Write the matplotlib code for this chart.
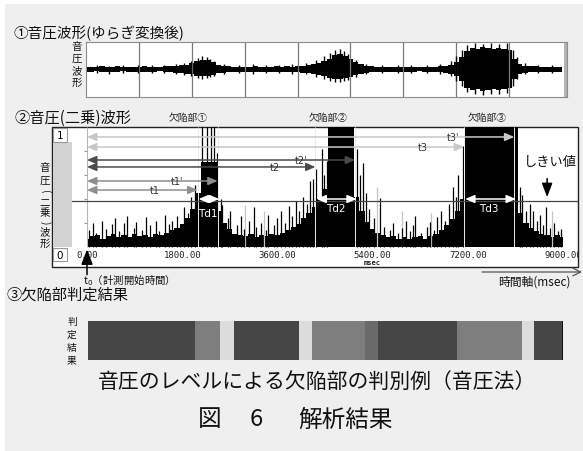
import matplotlib
matplotlib.use("Agg")
import matplotlib.pyplot as plt
from matplotlib.patches import Rectangle, ArrowStyle
import numpy as np

plt.rcParams["font.family"] = ["Noto Sans CJK JP", "DejaVu Sans"]

W, H = 583, 452

# ---- data ----
# (1) sound pressure waveform, envelope every 100 ms (fraction of half height)
wave_t = np.arange(0, 9001, 100)
wave_up = [0.09, 0.10, 0.08, 0.11, 0.09, 0.10, 0.11, 0.08, 0.10, 0.09,
           0.10, 0.11, 0.09, 0.10, 0.08, 0.11, 0.12, 0.13, 0.15, 0.18,
           0.22, 0.30, 0.36, 0.34, 0.26, 0.18, 0.13, 0.11, 0.10, 0.09,
           0.10, 0.09, 0.11, 0.10, 0.09, 0.10, 0.12, 0.10, 0.11, 0.10,
           0.12, 0.14, 0.16, 0.19, 0.24, 0.30, 0.40, 0.52, 0.58, 0.50,
           0.40, 0.28, 0.20, 0.14, 0.11, 0.10, 0.10, 0.09, 0.10, 0.10,
           0.09, 0.10, 0.10, 0.08, 0.10, 0.09, 0.10, 0.11, 0.13, 0.17,
           0.26, 0.45, 0.68, 0.80, 0.76, 0.82, 0.78, 0.74, 0.80, 0.76,
           0.70, 0.38, 0.19, 0.14, 0.11, 0.11, 0.10, 0.10, 0.09, 0.10,
           0.09]
wave_dn = [0.08, 0.09, 0.07, 0.10, 0.08, 0.09, 0.10, 0.07, 0.09, 0.08,
           0.09, 0.10, 0.08, 0.09, 0.07, 0.10, 0.10, 0.11, 0.13, 0.15,
           0.18, 0.22, 0.25, 0.24, 0.19, 0.14, 0.11, 0.10, 0.09, 0.08,
           0.09, 0.08, 0.10, 0.09, 0.08, 0.09, 0.10, 0.09, 0.10, 0.09,
           0.10, 0.12, 0.14, 0.17, 0.21, 0.25, 0.32, 0.36, 0.35, 0.31,
           0.26, 0.20, 0.16, 0.12, 0.10, 0.09, 0.10, 0.08, 0.09, 0.09,
           0.08, 0.09, 0.09, 0.07, 0.09, 0.08, 0.09, 0.10, 0.12, 0.15,
           0.24, 0.42, 0.66, 0.76, 0.72, 0.77, 0.73, 0.70, 0.76, 0.72,
           0.66, 0.34, 0.17, 0.13, 0.10, 0.10, 0.09, 0.10, 0.08, 0.09,
           0.08]
wave_spike_t = [200, 430, 700, 980, 1250, 1480, 1700, 1850, 1980, 2120, 2200,
                2280, 2350, 2420, 2600, 2900, 3150, 3400, 3650, 3900, 4150,
                4350, 4500, 4620, 4700, 4800, 4880, 4960, 5100, 5300, 5600,
                5900, 6150, 6450, 6700, 6900, 7000, 7100, 7200, 7350, 7500,
                7650, 7800, 7950, 8080, 8150, 8300, 8550, 8800]
wave_spike_up = [0.16, 0.14, 0.18, 0.15, 0.17, 0.15, 0.20, 0.24, 0.30, 0.42, 0.50,
                 0.46, 0.38, 0.30, 0.20, 0.16, 0.20, 0.15, 0.18, 0.20, 0.24,
                 0.35, 0.48, 0.60, 0.72, 0.76, 0.66, 0.55, 0.36, 0.20, 0.16,
                 0.18, 0.15, 0.17, 0.20, 0.30, 0.50, 0.70, 0.88, 0.96, 0.94,
                 0.97, 0.93, 0.95, 0.70, 0.45, 0.22, 0.17, 0.16]
wave_spike_dn = [0.12, 0.15, 0.13, 0.12, 0.14, 0.12, 0.16, 0.20, 0.22, 0.30, 0.34,
                 0.30, 0.28, 0.22, 0.15, 0.14, 0.16, 0.13, 0.14, 0.16, 0.18,
                 0.26, 0.35, 0.40, 0.44, 0.46, 0.42, 0.38, 0.28, 0.15, 0.13,
                 0.14, 0.12, 0.13, 0.15, 0.24, 0.40, 0.60, 0.82, 0.90, 0.92,
                 0.88, 0.90, 0.86, 0.60, 0.35, 0.16, 0.13, 0.14]

# (2) squared sound pressure, floor every 100 ms (1 = full scale)
sq_t = np.arange(0, 9001, 100)
sq_floor = [0.07, 0.09, 0.10, 0.07, 0.09, 0.11, 0.08, 0.10, 0.08, 0.11,
            0.09, 0.10, 0.08, 0.11, 0.10, 0.12, 0.14, 0.16, 0.19, 0.24,
            0.32, 0.45, 0.71, 0.71, 0.71, 0.30, 0.20, 0.15, 0.11, 0.10,
            0.09, 0.11, 0.08, 0.10, 0.09, 0.11, 0.10, 0.12, 0.14, 0.17,
            0.19, 0.24, 0.28, 0.33, 0.40, 0.48, 1.05, 1.05, 1.05, 1.05,
            1.05, 0.42, 0.30, 0.21, 0.15, 0.12, 0.10, 0.08, 0.09, 0.07,
            0.08, 0.07, 0.08, 0.09, 0.07, 0.09, 0.11, 0.14, 0.18, 0.23,
            0.30, 0.40, 1.05, 1.05, 1.05, 1.05, 1.05, 1.05, 1.05, 1.05,
            1.05, 1.05, 0.28, 0.20, 0.16, 0.13, 0.11, 0.10, 0.08, 0.10,
            0.08]
sq_spike_t = [40, 110, 170, 290, 350, 470, 520, 610, 700, 760, 880, 930,
              1040, 1120, 1190, 1310, 1360, 1470, 1550, 1610, 1700, 1760,
              1840, 1910, 1970, 2040, 2167, 2262, 2338, 2401, 2460, 2530,
              2560, 2660, 2700, 2830, 2910, 2970, 3060, 3150, 3190, 3290,
              3380, 3420, 3530, 3590, 3660, 3740, 3810, 3870, 3950, 4010,
              4080, 4160, 4210, 4270, 4330, 4440, 4490, 4540, 5100, 5160,
              5210, 5280, 5340, 5420, 5540, 5610, 5720, 5790, 5880, 5960,
              6030, 6110, 6170, 6200, 6310, 6420, 6480, 6560, 6620, 6700,
              6760, 6850, 6920, 6980, 7020, 7110, 8180, 8230, 8300, 8370,
              8430, 8500, 8570, 8620, 8680, 8760, 8830, 8900, 8960]
sq_spike_v = [0.14, 0.20, 0.12, 0.22, 0.15, 0.19, 0.24, 0.13, 0.20, 0.26, 0.16, 0.21,
              0.14, 0.25, 0.18, 0.22, 0.13, 0.27, 0.19, 0.22, 0.26, 0.18,
              0.33, 0.28, 0.42, 0.52, 1.05, 1.05, 1.05, 1.05, 0.78, 0.40,
              0.35, 0.24, 0.30, 0.18, 0.26, 0.15, 0.22, 0.33, 0.17, 0.20,
              0.14, 0.27, 0.18, 0.24, 0.30, 0.20, 0.34, 0.26, 0.38, 0.30,
              0.42, 0.36, 0.55, 0.57, 0.65, 0.82, 0.60, 0.72, 0.82, 0.60,
              0.70, 0.45, 0.32, 0.24, 0.41, 0.17, 0.14, 0.20, 0.12, 0.16,
              0.22, 0.13, 0.18, 0.26, 0.12, 0.17, 0.21, 0.14, 0.25, 0.30,
              0.22, 0.36, 0.50, 0.42, 0.60, 0.84, 0.50, 0.43, 0.30, 0.36,
              0.30, 0.22, 0.27, 0.18, 0.33, 0.16, 0.20, 0.13, 0.15]
sq_light_t = [2990, 3340, 5480, 5950, 6500, 8790]
sq_light_v = [0.35, 0.30, 0.50, 0.30, 0.28, 0.30]

defect_names = ["欠陥部①", "欠陥部②", "欠陥部③"]
defect_label_ms = [1910, 4560, 7560]
t_start = [2090, 4320, 7130]
t_end = [2470, 5070, 8080]
t_level = [0.475, 0.667, 0.833]
t2_level = [0.55, 0.725, 0.917]
t_names = ["t1", "t2", "t3"]
t2_names = ["t1'", "t2'", "t3'"]
t_label_ms = [1286, 3555, 6353]
t2_label_ms = [1702, 4046, 6920]
arrow_colors = ["#8e8e8e", "#4a4a4a", "#c8c8c8"]
td_names = ["Td1", "Td2", "Td3"]
td_label_v = [0.283, 0.325, 0.325]
threshold = 0.383
ytick_v = [0.2, 0.4, 0.6, 0.8]
tick_ms = [0, 1800, 3600, 5400, 7200, 9000]
tick_labels = ["0.00", "1800.00", "3600.00", "5400.00", "7200.00", "9000.00"]
grid_ms = [1000, 2000, 3000, 4000, 5000, 6000, 7000, 8000]

# (3) judgement result bands
judge_edges = [20, 2042, 2515, 2779, 4014, 4249, 5256, 5508, 6990, 8231, 8458, 8976, 9000]
judge_colors = ["#464646", "#7e7e7e", "#dcdcdc", "#464646", "#dcdcdc", "#7e7e7e",
                "#6a6a6a", "#464646", "#7e7e7e", "#dcdcdc", "#464646", "#111111"]

fig = plt.figure(figsize=(W / 100, H / 100), dpi=100, facecolor="white")


def px_axes(x0, y0, x1, y1):
    return fig.add_axes([x0 / W, 1 - y1 / H, (x1 - x0) / W, (y1 - y0) / H])


bg = fig.add_axes([0, 0, 1, 1])
bg.set_xlim(0, W)
bg.set_ylim(H, 0)
bg.axis("off")
bg.add_patch(Rectangle((5, 5), W, H, color="#efefef", lw=0))

# ---- panel 1 ----
bg.text(14, 33, "①音圧波形(ゆらぎ変換後)", fontsize=10.5, va="center", color="#111")
for ch, yy in zip("音圧波形", [47, 59, 71, 83]):
    bg.text(77, yy, ch, fontsize=7.5, ha="center", va="center", color="#111")

ax1 = px_axes(86, 43, 567, 98)
ax1.set_xlim(0, 9093)
ax1.set_ylim(-1, 1)
ax1.set_facecolor("white")
for s in ax1.spines.values():
    s.set_color("#8c8c8c")
ax1.set_xticks([])
ax1.set_yticks([])
for g in grid_ms:
    ax1.axvline(g, color="#7a7a7a", lw=0.9)
ax1.axvspan(9040, 9093, color="#b4b4b4", lw=0)
ax1.fill_between(wave_t, -np.array(wave_dn), wave_up, step="mid", color="black", lw=0)
ax1.vlines(wave_spike_t, -np.array(wave_spike_dn), wave_spike_up, color="black", lw=1)

# ---- panel 2 ----
bg.text(14, 118, "②音圧(二乗)波形", fontsize=11, va="center", color="#111")
bg.add_patch(Rectangle((52, 128), 526, 140, facecolor="white", edgecolor="#222", lw=1))
bg.add_patch(Rectangle((53, 143), 19, 105, facecolor="#d2d2d2", lw=0))
bg.add_patch(Rectangle((53, 129), 14, 14, facecolor="white", edgecolor="#999", lw=0.8))
bg.add_patch(Rectangle((53, 249), 14, 13, facecolor="white", edgecolor="#999", lw=0.8))
bg.text(60, 136, "1", fontsize=7.5, ha="center", va="center", family="DejaVu Sans")
bg.text(60, 256, "0", fontsize=7.5, ha="center", va="center", family="DejaVu Sans")
for ch, yy, rot in zip(["音", "圧", "(", "二", "乗", ")", "波", "形"],
                       [168, 181, 192, 202, 213, 223, 232, 244],
                       [0, 0, 270, 0, 0, 270, 0, 0]):
    bg.text(45, yy, ch, fontsize=7.5, ha="center", va="center", color="#111",
            rotation=rot)

ax2 = px_axes(72, 128, 578, 268)
ax2.set_xlim(-283.6, 9283.6)
ax2.set_ylim(-20 / 120, 1.0)
ax2.axis("off")
ax2.patch.set_visible(False)

ax2.vlines(0, 0, 1, color="#b8b8b8", lw=0.8)
ax2.hlines(ytick_v, -60, 0, color="#a0a0a0", lw=0.8)
ax2.vlines(sq_light_t, 0, sq_light_v, color="#c4c4c4", lw=0.9)
ax2.fill_between(sq_t, 0, sq_floor, step="mid", color="black", lw=0)
ax2.vlines(sq_spike_t, 0, sq_spike_v, color="black", lw=0.9)
ax2.vlines(t_start + t_end, 0, 1, color="#ececec", lw=0.7)
ax2.axhline(threshold, color="#454545", lw=0.9)

head = ArrowStyle("<|-|>", head_length=0.7, head_width=0.3)
for i in range(3):
    ax2.annotate("", xy=(t_start[i], t_level[i]), xytext=(0, t_level[i]),
                 arrowprops=dict(arrowstyle=head, color=arrow_colors[i], lw=1.1,
                                 mutation_scale=8, shrinkA=0, shrinkB=0))
    ax2.annotate("", xy=(t_end[i], t2_level[i]), xytext=(0, t2_level[i]),
                 arrowprops=dict(arrowstyle=head, color=arrow_colors[i], lw=1.1,
                                 mutation_scale=8, shrinkA=0, shrinkB=0))
    ax2.text(t_label_ms[i], t_level[i], t_names[i], fontsize=7, ha="center", va="center",
             color="#333", family="DejaVu Sans")
    ax2.text(t2_label_ms[i], t2_level[i], t2_names[i], fontsize=7, ha="center", va="center",
             color="#333", family="DejaVu Sans")
    ax2.annotate("", xy=(t_end[i] + 30, 0.40), xytext=(t_start[i] + 20, 0.40),
                 arrowprops=dict(arrowstyle=head, color="white", lw=1.1,
                                 mutation_scale=8, shrinkA=0, shrinkB=0))
    ax2.text((t_start[i] + t_end[i]) / 2, td_label_v[i], td_names[i], fontsize=7.5,
             ha="center", va="center", color="white", family="DejaVu Sans")
    ax2.text(defect_label_ms[i], 1.08, defect_names[i], fontsize=7, ha="center",
             va="center", color="#222", clip_on=False)

for ms, lab in zip(tick_ms, tick_labels):
    ax2.text(ms, -7 / 120, lab, fontsize=6.5, ha="center", va="center",
             family="DejaVu Sans Mono", color="#222", clip_on=True)
ax2.text(5400, -15 / 120, "msec", fontsize=5, ha="center", va="center",
         family="DejaVu Sans Mono", weight="bold", color="#222")

ax2.text(8760, 0.71, "しきい値", fontsize=9.5, ha="center", va="center", color="#111")
ax2.annotate("", xy=(8700, 0.415), xytext=(8700, 0.57),
             arrowprops=dict(arrowstyle=ArrowStyle("-|>", head_length=1.2, head_width=0.45),
                             color="black", lw=1.1, mutation_scale=7, shrinkA=0, shrinkB=0))
ax2.annotate("", xy=(0, -0.02), xytext=(0, -0.23), annotation_clip=False,
             arrowprops=dict(arrowstyle=ArrowStyle("-|>", head_length=1.3, head_width=0.5),
                             color="black", lw=1.1, mutation_scale=7, shrinkA=0, shrinkB=0))
bg.text(83, 281, r"t$_0$（計測開始時間）", fontsize=7.5, va="center", color="#111")

bg.annotate("", xy=(582, 273), xytext=(482, 273),
            arrowprops=dict(arrowstyle=ArrowStyle("->", head_length=0.7, head_width=0.35),
                            color="#555", lw=0.9, mutation_scale=8, shrinkA=0, shrinkB=0))
bg.text(534, 282, "時間軸(msec)", fontsize=8.5, ha="center", va="center", color="#111")

# ---- panel 3 ----
bg.text(6, 295, "③欠陥部判定結果", fontsize=11, va="center", color="#111")
for ch, yy in zip("判定結果", [322, 335, 348, 361]):
    bg.text(72, yy, ch, fontsize=7, ha="center", va="center", color="#111")

ax3 = px_axes(87, 322, 563, 361)
ax3.set_xlim(0, 9000)
ax3.set_ylim(0, 1)
ax3.axis("off")
ax3.barh(0.5, np.diff(judge_edges), left=judge_edges[:-1], height=1,
         color=judge_colors, lw=0)

bg.text(317, 382, "音圧のレベルによる欠陥部の判別例（音圧法）", fontsize=15,
        ha="center", va="center", color="#111")
bg.text(210, 420, "図", fontsize=17, ha="center", va="center", color="#111")
bg.text(256.5, 420, "6", fontsize=17, ha="center", va="center", color="#111")
bg.text(345.5, 420, "解析結果", fontsize=17, ha="center", va="center", color="#111")

fig.savefig("out.png", dpi=100, facecolor=fig.get_facecolor())
